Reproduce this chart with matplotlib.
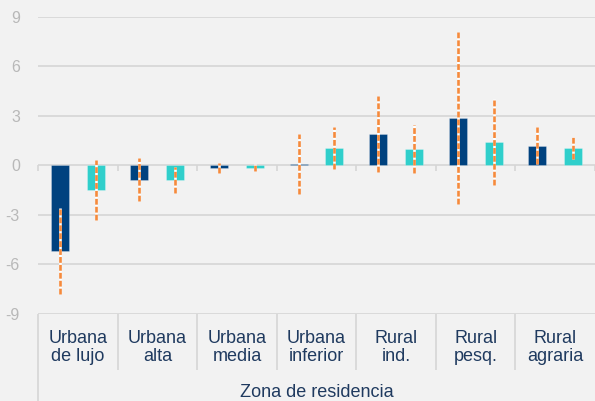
import numpy as np
import matplotlib.pyplot as plt

plt.rcParams['font.family'] = ['Liberation Sans', 'DejaVu Sans']
plt.rcParams['axes.unicode_minus'] = False

# Datos por zona de residencia
zonas = ['Urbana\nde lujo', 'Urbana\nalta', 'Urbana\nmedia', 'Urbana\ninferior',
         'Rural\nind.', 'Rural\npesq.', 'Rural\nagraria']
serie_1 = [-5.2, -0.87, -0.16, 0.1, 1.9, 2.85, 1.17]
error_1 = [2.6, 1.32, 0.31, 1.82, 2.29, 5.2, 1.12]
serie_2 = [-1.5, -0.9, -0.15, 1.05, 1.0, 1.4, 1.05]
error_2 = [1.8, 0.78, 0.2, 1.27, 1.45, 2.6, 0.67]
titulo_eje = 'Zona de residencia'

fondo = '#F2F2F2'
rejilla = '#D6D6D6'
azul = '#00427F'
turquesa = '#30CFCB'
naranja = '#F58A3C'
texto = '#1F3A5F'

fig = plt.figure(figsize=(5.95, 4.01), dpi=100, facecolor=fondo)
ax = fig.add_axes([38/595, 1 - 313.7/401, 557/595, 297/401], facecolor=fondo)

x = np.arange(len(zonas))
ancho = 0.226
ax.bar(x - ancho, serie_1, ancho, color=azul, edgecolor=(1, 1, 1, 0.3), linewidth=0.6, zorder=3)
ax.bar(x + ancho, serie_2, ancho, color=turquesa, edgecolor=(1, 1, 1, 0.3), linewidth=0.6, zorder=3)

# barras de error discontinuas, sin remate
for desp, v, e in [(-ancho, serie_1, error_1), (ancho, serie_2, error_2)]:
    v = np.array(v)
    e = np.array(e)
    ax.vlines(x + desp, v - e, v + e, colors='white', linewidth=1.9, zorder=4)
    ax.vlines(x + desp, v - e, v + e, colors=naranja, linewidth=1.9,
              linestyles=[(0, (2.2, 0.8))], zorder=5)

ax.set_xlim(-0.5, len(zonas) - 0.5)
ax.set_ylim(-9, 9)
ax.set_yticks(range(-9, 10, 3))
ax.set_yticklabels([str(t) for t in range(-9, 10, 3)])
ax.tick_params(axis='y', length=0, pad=13, labelsize=11.5, labelcolor='#B8B8B8')
ax.set_xticks([])
ax.yaxis.grid(True, color=rejilla, linewidth=1.2, zorder=0)
ax.set_axisbelow(True)
for s in ax.spines.values():
    s.set_visible(False)

# marcas del eje en cero
limites = np.arange(len(zonas) + 1) - 0.5
ax.vlines(limites, -0.36, 0, colors=rejilla, linewidth=1.2, zorder=1, clip_on=False)

# caja de categorias debajo del grafico
ax.vlines(limites[1:-1], -9, -12.4, colors=rejilla, linewidth=1.2, clip_on=False)
ax.vlines(limites[0], -9, -14.6, colors=rejilla, linewidth=1.2, clip_on=False)
for i, z in enumerate(zonas):
    ax.text(x[i], -9.98, z, ha='center', va='top', fontsize=13, color=texto,
            linespacing=1.08, clip_on=False)
ax.text((len(zonas) - 1) / 2, -14.05, titulo_eje, ha='center', va='baseline',
        fontsize=13, color=texto, clip_on=False)

fig.savefig('out.png', dpi=100, facecolor=fondo)
